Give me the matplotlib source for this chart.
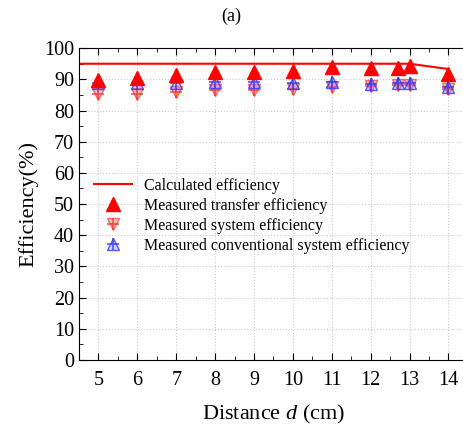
import matplotlib
matplotlib.use("Agg")
import matplotlib.pyplot as plt
from matplotlib.ticker import MultipleLocator
from matplotlib.legend_handler import HandlerTuple

plt.rcParams['font.family'] = ['Liberation Serif', 'DejaVu Serif']
plt.rcParams['mathtext.fontset'] = 'custom'
plt.rcParams['mathtext.it'] = 'Liberation Serif:italic'
plt.rcParams['mathtext.rm'] = 'Liberation Serif'

# calculated efficiency curve
calc_d = [4.5, 5, 6, 7, 8, 9, 10, 11, 12, 13, 14]
calc_eff = [95, 95, 95, 95, 95, 95, 95, 95, 95, 95, 93.3]

# measured points
dist = [5, 6, 7, 8, 9, 10, 11, 12, 12.7, 13, 14]
transfer_eff = [89.7, 90.5, 91.5, 92.2, 92.2, 92.8, 93.8, 93.5, 93.5, 94.2, 91.8]
system_eff = [85.2, 85.2, 86.0, 86.5, 86.5, 87.0, 87.6, 88.0, 88.3, 88.3, 87.0]
conv_eff = [88.9, 88.9, 88.9, 89.2, 89.2, 88.9, 89.2, 88.5, 88.7, 88.7, 87.4]

fig = plt.figure(figsize=(4.63, 4.26), dpi=100)
ax = fig.add_axes([0.1706, 0.155, 0.840, 0.732])

ax.grid(True, color='#cccccc', linestyle=':', linewidth=0.8)
ax.set_axisbelow(True)

l_calc, = ax.plot(calc_d, calc_eff, color='red', lw=1.5, zorder=2)

s1, = ax.plot(dist, system_eff, ls='none', marker='v', ms=9, mfc=(1, 0.4, 0.4, 0.45),
              mec=(1, 0.3, 0.3, 0.8), mew=1.0, zorder=3)
s2, = ax.plot(dist, system_eff, ls='none', marker='+', ms=9, mec=(0.9, 0.2, 0.2, 0.8),
              mew=1.2, zorder=3)
c1, = ax.plot(dist, conv_eff, ls='none', marker='^', ms=9, mfc=(0.5, 0.5, 1, 0.35),
              mec=(0.2, 0.2, 1, 0.8), mew=1.0, zorder=4)
c2, = ax.plot(dist, conv_eff, ls='none', marker='+', ms=9, mec=(0.2, 0.2, 0.9, 0.8),
              mew=1.2, zorder=4)
l_tr, = ax.plot(dist, transfer_eff, ls='none', marker='^', ms=10, color='red', mec='red',
                zorder=5)

ax.set_xlim(4.5, 14.5)
ax.set_ylim(0, 100)
ax.xaxis.set_major_locator(MultipleLocator(1))
ax.xaxis.set_minor_locator(MultipleLocator(0.5))
ax.yaxis.set_major_locator(MultipleLocator(10))
ax.yaxis.set_minor_locator(MultipleLocator(5))
ax.tick_params(axis='both', which='major', labelsize=14.5, direction='in', length=5,
               top=True, right=False)
ax.tick_params(axis='both', which='minor', direction='in', length=3, top=True)
ax.tick_params(axis='x', which='major', pad=8)

ax.set_xlabel('Distance $d$ (cm)', fontsize=16, labelpad=9)
ax.set_ylabel('Efficiency(%)', fontsize=16, labelpad=4)
fig.text(0.5, 0.962, '(a)', ha='center', va='center', fontsize=13)

ax.legend([l_calc, l_tr, (s1, s2), (c1, c2)],
          ['Calculated efficiency', 'Measured transfer efficiency',
           'Measured system efficiency', 'Measured conventional system efficiency'],
          handler_map={tuple: HandlerTuple(ndivide=1)},
          loc='upper left', bbox_to_anchor=(0.01, 0.62), frameon=False,
          fontsize=11.5, handlelength=2.4, handletextpad=0.7, labelspacing=0.25,
          borderaxespad=0.3)

fig.savefig('out.png', dpi=100)
